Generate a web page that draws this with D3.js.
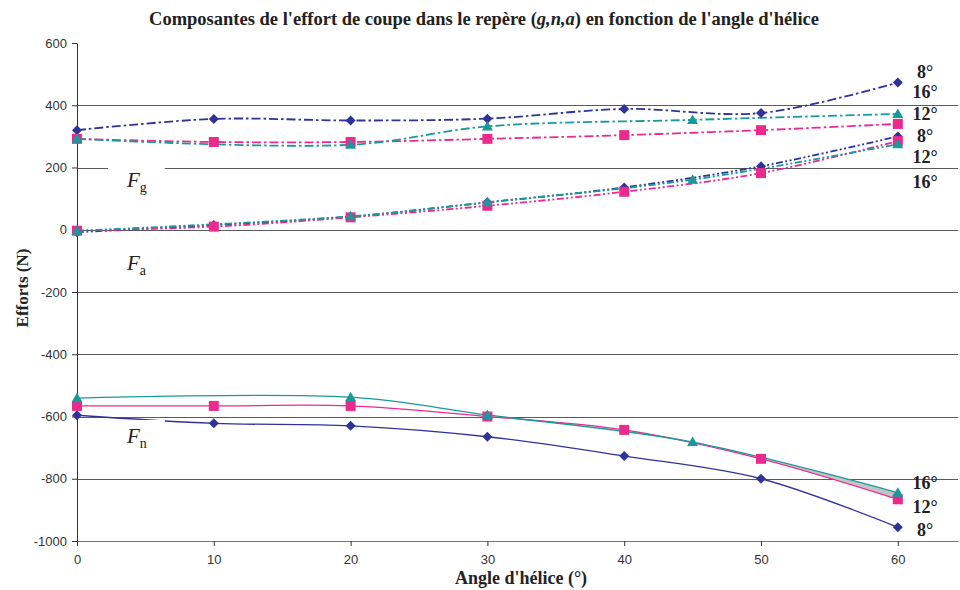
<!DOCTYPE html>
<html>
<head>
<meta charset="utf-8">
<script src="https://cdn.jsdelivr.net/npm/d3@7"></script>
<style>
  body { margin: 0; background: #fff; }
  svg { display: block; }
</style>
</head>
<body>
<script>
// angles (deg) where each series was measured
var angles = [0, 10, 20, 30, 40, 50, 60];
var angles16 = [0, 20, 30, 45, 60];

// Fg
var fg8 = [320, 356, 351, 357, 388, 375, 473];
var fg12 = [292, 282, 282, 292, 304, 320, 340];
var fg16 = [292, 273, 332, 353, 372];
// Fa
var fa8 = [-8, 15, 42, 88, 136, 204, 300];
var fa12 = [-3, 10, 40, 77, 122, 182, 285];
var fa16 = [-3, 43, 88, 161, 275];
// Fn
var fn8 = [-596, -622, -630, -665, -727, -800, -956];
var fn12 = [-566, -566, -566, -600, -643, -736, -866];
var fn16 = [-541, -538, -595, -682, -845];

var xTicks = [0, 10, 20, 30, 40, 50, 60];
var yTicks = [-1000, -800, -600, -400, -200, 0, 200, 400, 600];

// labels at the right end (value = baseline)
var endLabels = [["8°", 488], ["16°", 423], ["12°", 353], ["8°", 282], ["12°", 214], ["16°", 134],
                 ["16°", -833], ["12°", -910], ["8°", -984]];
// component names: [letter subscript, x value, baseline value]
var compLabels = [["g", 3.65, 137], ["a", 3.65, -129], ["n", 3.65, -685]];

var width = 960, height = 590;
var navy = "#30329a", pink = "#ec2a8e", teal = "#189a9c";

var svg = d3.select("body").append("svg")
	.attr("width", width)
	.attr("height", height);

var x = d3.scaleLinear().domain([0, 64.4]).range([77, 958]);
var y = d3.scaleLinear().domain([-1000, 600]).range([541, 43]);

// title
var title = svg.append("text")
	.attr("x", 484).attr("y", 25)
	.attr("text-anchor", "middle")
	.attr("font-family", "Liberation Serif, Times New Roman, serif")
	.attr("font-weight", "bold")
	.attr("font-size", 18.5)
	.attr("fill", "#222");
title.append("tspan").text("Composantes de l'effort de coupe dans le repère (");
title.append("tspan").attr("font-style", "italic").text("g,n,a");
title.append("tspan").text(") en fonction de l'angle d'hélice");

// gridlines
svg.append("g").selectAll("line")
	.data(yTicks.filter(function(d){ return d > -1000 && d < 600; }))
	.enter().append("line")
	.attr("x1", x(0)).attr("x2", x(64.4))
	.attr("y1", function(d){ return Math.round(y(d)) + 0.5; })
	.attr("y2", function(d){ return Math.round(y(d)) + 0.5; })
	.attr("stroke", "#5a5a5a")
	.attr("stroke-width", 1);

// axes
var yAxis = d3.axisLeft(y).tickValues(yTicks).tickSize(5).tickSizeOuter(0).tickPadding(5)
	.tickFormat(function(d){ return String(d); });
var xAxis = d3.axisBottom(x).tickValues(xTicks).tickSize(5).tickSizeOuter(0).tickPadding(9)
	.tickFormat(function(d){ return String(d); });

var gy = svg.append("g").attr("transform", "translate(" + x(0) + ",0)").call(yAxis);
var gx = svg.append("g").attr("transform", "translate(0," + y(-1000) + ")").call(xAxis);
[gx, gy].forEach(function(g){
	g.selectAll("path, line").attr("stroke", "#333");
	g.selectAll("text").attr("fill", "#333")
		.attr("font-family", "Liberation Sans, Arial, sans-serif")
		.attr("font-size", 13);
});
gx.select(".domain").attr("stroke", "#777");

svg.append("text")
	.attr("transform", "translate(28,288) rotate(-90)")
	.attr("text-anchor", "middle")
	.attr("font-family", "Liberation Serif, Times New Roman, serif")
	.attr("font-weight", "bold").attr("font-size", 17).attr("fill", "#222")
	.text("Efforts (N)");

svg.append("text")
	.attr("x", 521).attr("y", 584)
	.attr("text-anchor", "middle")
	.attr("font-family", "Liberation Serif, Times New Roman, serif")
	.attr("font-weight", "bold").attr("font-size", 18).attr("fill", "#222")
	.text("Angle d'hélice (°)");

function pts(xs, ys){ return xs.map(function(a, i){ return [a, ys[i]]; }); }

var line = d3.line()
	.x(function(d){ return x(d[0]); })
	.y(function(d){ return y(d[1]); })
	.curve(d3.curveCatmullRom.alpha(0.5));

var dashG = "9,3,2.5,3";
var dashA = "7,2.5,2,2.5,2,2.5";

var series = [
	{p: pts(angles, fn8), c: navy, s: "diamond", dash: null, w: 1.3},
	{p: pts(angles, fn12), c: pink, s: "square", dash: null, w: 1.3},
	{p: pts(angles16, fn16), c: teal, s: "triangle", dash: null, w: 1.3},
	{p: pts(angles, fa8), c: navy, s: "diamond", dash: dashA, w: 1.8},
	{p: pts(angles, fa12), c: pink, s: "square", dash: dashA, w: 1.8},
	{p: pts(angles16, fa16), c: teal, s: "triangle", dash: dashA, w: 1.8},
	{p: pts(angles, fg8), c: navy, s: "diamond", dash: dashG, w: 1.8},
	{p: pts(angles, fg12), c: pink, s: "square", dash: dashG, w: 1.8},
	{p: pts(angles16, fg16), c: teal, s: "triangle", dash: dashG, w: 1.8}
];

// grey band between the 16° and 12° Fn curves
svg.append("clipPath").attr("id", "band")
	.append("rect")
	.attr("x", x(47)).attr("y", y(600))
	.attr("width", x(60) - x(47)).attr("height", y(-1000) - y(600));
var bandPath = line(pts(angles16, fn16)) + line(pts(angles, fn12).reverse()).replace(/^M/, "L") + "Z";
svg.append("path")
	.attr("d", bandPath)
	.attr("clip-path", "url(#band)")
	.attr("fill", "#c4c4c4");

svg.append("g").selectAll("path")
	.data(series)
	.enter().append("path")
	.attr("d", function(d){ return line(d.p); })
	.attr("fill", "none")
	.attr("stroke", function(d){ return d.c; })
	.attr("stroke-width", function(d){ return d.w; })
	.attr("stroke-dasharray", function(d){ return d.dash; });

// component labels on white boxes
compLabels.forEach(function(l){
	var g = svg.append("g");
	var rect = g.append("rect").attr("fill", "#fff");
	var t = g.append("text")
		.attr("x", x(l[1])).attr("y", y(l[2]))
		.attr("font-family", "Liberation Serif, Times New Roman, serif")
		.attr("fill", "#222");
	t.append("tspan").attr("font-style", "italic").attr("font-size", 21).text("F");
	t.append("tspan").attr("font-size", 14).attr("dy", 5).text(l[0]);
	var b = t.node().getBBox();
	rect.attr("x", b.x - 18).attr("y", b.y - 4)
		.attr("width", b.width + 36).attr("height", b.height + 8);
});

var shapes = {
	diamond: "M0,-5L5,0L0,5L-5,0Z",
	square: "M-5,-5h10v10h-10Z",
	triangle: "M0,-5.5L5.5,4L-5.5,4Z"
};

series.forEach(function(s){
	svg.append("g").selectAll("path")
		.data(s.p)
		.enter().append("path")
		.attr("transform", function(d){ return "translate(" + x(d[0]) + "," + y(d[1]) + ")"; })
		.attr("d", shapes[s.s])
		.attr("fill", s.c);
});

svg.append("g").selectAll("text")
	.data(endLabels)
	.enter().append("text")
	.attr("x", 925)
	.attr("y", function(d){ return y(d[1]); })
	.attr("text-anchor", "middle")
	.attr("font-family", "Liberation Serif, Times New Roman, serif")
	.attr("font-weight", "bold").attr("font-size", 18).attr("fill", "#222")
	.text(function(d){ return d[0]; });
</script>
</body>
</html>
